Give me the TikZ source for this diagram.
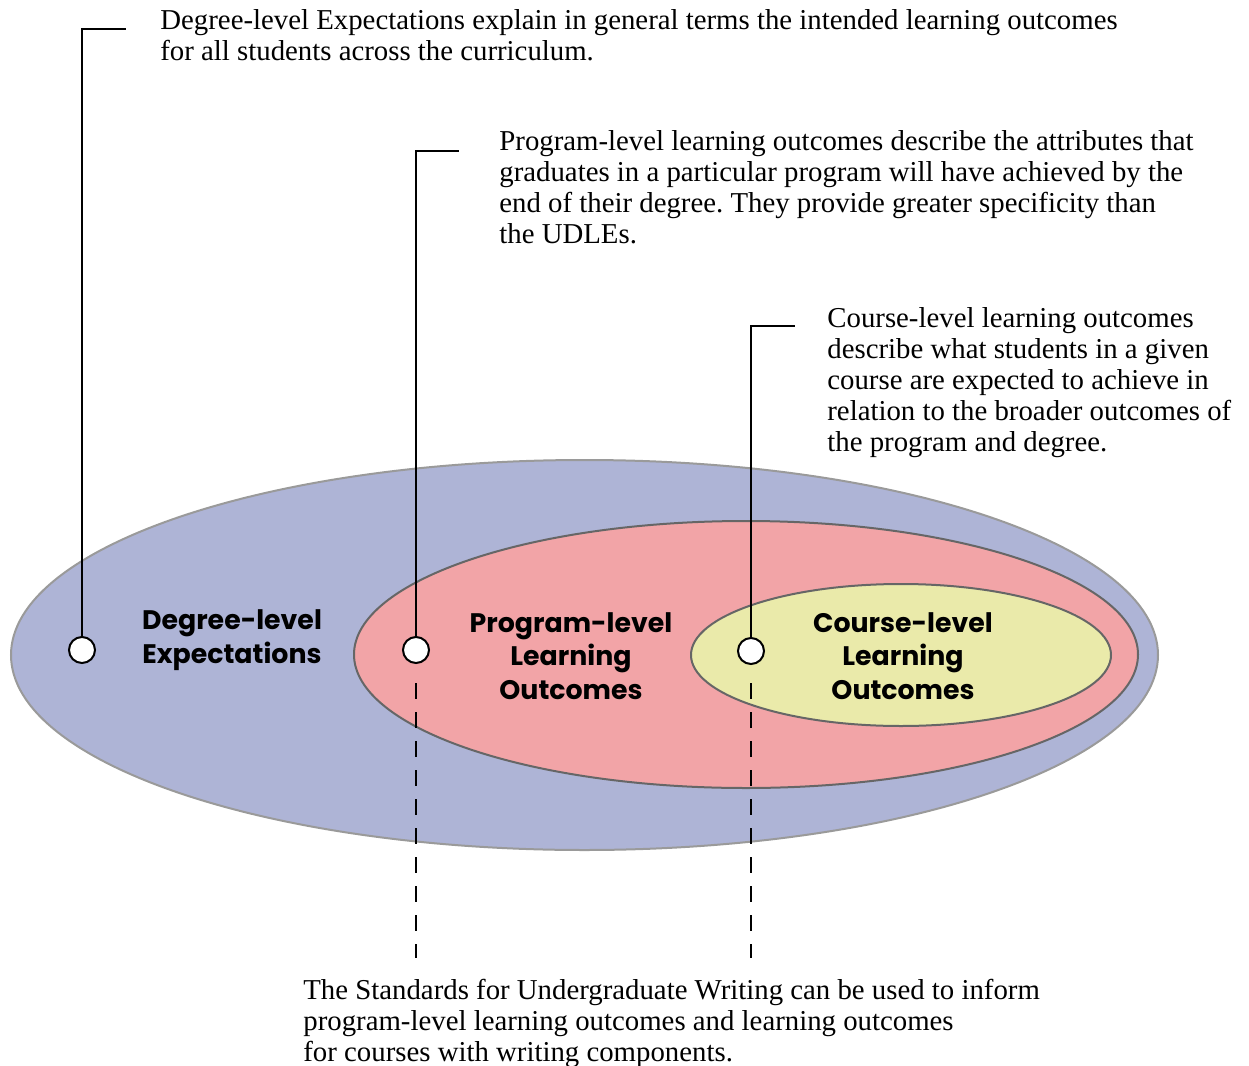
\documentclass[tikz,border=0pt]{standalone}
\usepackage{fontspec}
\setmainfont{Liberation Serif}
\newfontfamily\labelfont{Poppins}
\usetikzlibrary{shapes.geometric}
\definecolor{degfill}{HTML}{AEB4D6}
\definecolor{degline}{HTML}{9A9A9A}
\definecolor{progfill}{HTML}{F2A4A7}
\definecolor{coursefill}{HTML}{EAEAAA}
\definecolor{innerline}{HTML}{666666}
\tikzset{
  blob/.style={ellipse, inner sep=0pt, line width=1pt},
  pin/.style={circle, draw=black, fill=white, line width=1pt, minimum size=13pt, inner sep=0pt},
  leader/.style={draw=black, line width=1pt},
  dashleader/.style={draw=black, line width=1pt, dash pattern=on 8pt off 6.5pt},
  desc/.style={anchor=north west, inner sep=0pt, align=left, font=\frenchspacing\fontsize{14.4pt}{15.5pt}\selectfont},
  lvl/.style={inner sep=0pt, align=center, font=\labelfont\bfseries\fontsize{13.4pt}{16.8pt}\selectfont}
}
\begin{document}
\begin{tikzpicture}[x=0.5pt,y=-0.5pt]
\useasboundingbox (0,0) rectangle (1249,1066);
% ellipses
\node[blob, draw=degline, fill=degfill, minimum width=573.5pt, minimum height=195pt] (deg) at (584.5,655) {};
\node[blob, draw=innerline, fill=progfill, minimum width=392pt, minimum height=133.5pt] (prog) at (746,654.5) {};
\node[blob, draw=innerline, fill=coursefill, minimum width=210pt, minimum height=71pt] (course) at (901,655) {};
% level labels
\node[lvl] (degl) at (232,640) {Degree-level\\Expectations};
\node[lvl] (progl) at (571,656) {Program-level\\Learning\\Outcomes};
\node[lvl] (coursel) at (903,656) {Course-level\\Learning\\Outcomes};
% pins
\node[pin] (p1) at (82,650) {};
\node[pin] (p2) at (416,650) {};
\node[pin] (p3) at (751,651) {};
% leader ends
\coordinate (e1) at (126,29);
\coordinate (e2) at (459,151);
\coordinate (e3) at (795,326);
\draw[leader] (p1.north) |- (e1);
\draw[leader] (p2.north) |- (e2);
\draw[leader] (p3.north) |- (e3);
% dashed leaders
\coordinate (d2a) at (416,683);
\coordinate (d2b) at (416,958);
\coordinate (d3a) at (751,683);
\coordinate (d3b) at (751,958);
\draw[dashleader] (d2a) -- (d2b);
\draw[dashleader] (d3a) -- (d3b);
% descriptions
\node[desc] (t1) at (160,9) {Degree-level Expectations explain in general terms the intended learning outcomes\\for all students across the curriculum.};
\node[desc] (t2) at (499,130) {Program-level learning outcomes describe the attributes that\\graduates in a particular program will have achieved by the\\end of their degree. They provide greater specificity than\\the UDLEs.};
\node[desc] (t3) at (827,307) {Course-level learning outcomes\\describe what students in a given\\course are expected to achieve in\\relation to the broader outcomes of\\the program and degree.};
\node[desc] (t4) at (303,979) {The Standards for Undergraduate Writing can be used to inform\\program-level learning outcomes and learning outcomes\\for courses with writing components.};
\end{tikzpicture}
\end{document}
